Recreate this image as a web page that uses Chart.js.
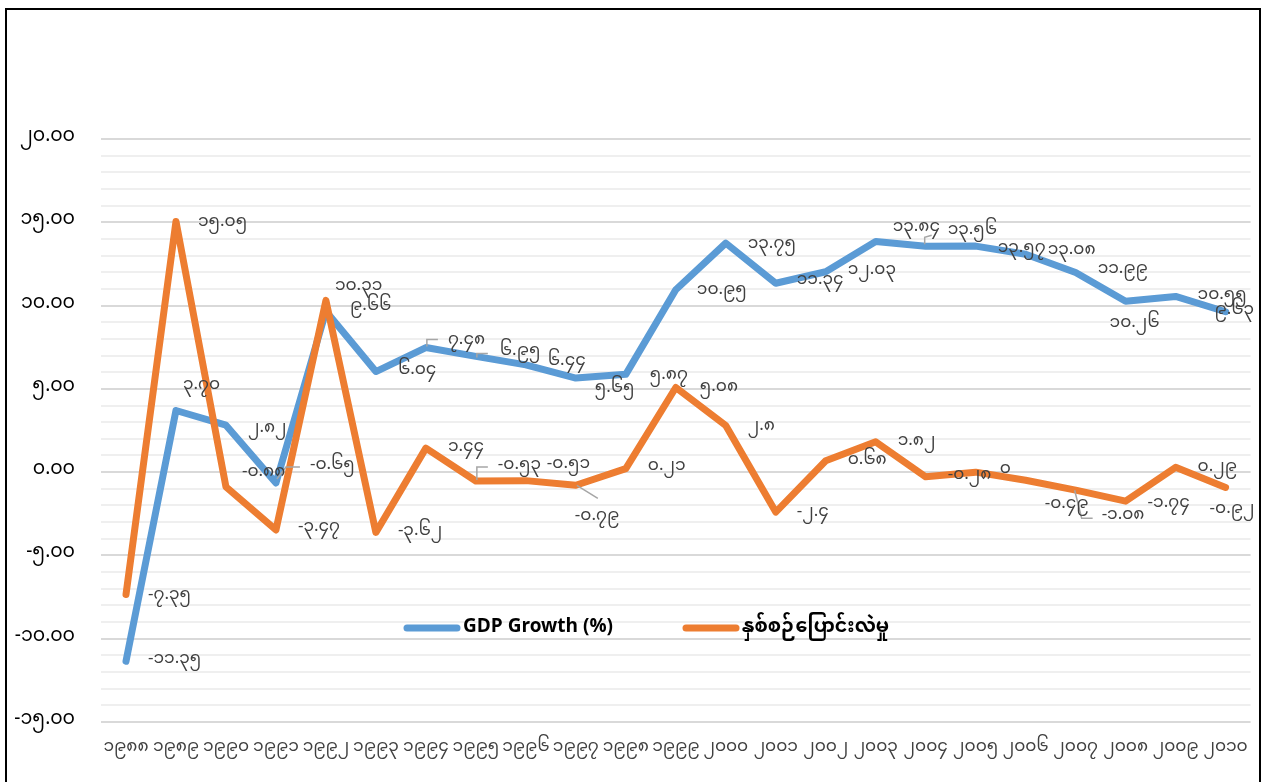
<!DOCTYPE html>
<html>
<head>
<meta charset="utf-8">
<script src="https://cdn.jsdelivr.net/npm/chart.js@4"></script>
<style>
  html, body { margin: 0; padding: 0; background: #fff; }
  #frame {
    position: absolute; left: 5px; top: 8px; width: 1252px; height: 800px;
    border: 2px solid #000; box-sizing: content-box;
  }
  #wrap { position: absolute; left: 0; top: 0; width: 1265px; height: 782px; }
</style>
</head>
<body>
<div id="frame"></div>
<div id="wrap"><canvas id="chart" width="1265" height="782"></canvas></div>
<script>
// ---------------------------------------------------------------
// data
// ---------------------------------------------------------------
const years = [1988, 1989, 1990, 1991, 1992, 1993, 1994, 1995, 1996, 1997, 1998, 1999,
  2000, 2001, 2002, 2003, 2004, 2005, 2006, 2007, 2008, 2009, 2010];

const gdpGrowth = [-11.35, 3.70, 2.82, -0.65, 9.66, 6.04, 7.48, 6.95, 6.44, 5.65, 5.87, 10.95,
  13.75, 11.34, 12.03, 13.84, 13.56, 13.57, 13.08, 11.99, 10.26, 10.55, 9.63];

const yearlyChange = [-7.35, 15.05, -0.88, -3.47, 10.31, -3.62, 1.44, -0.53, -0.51, -0.79, 0.21, 5.08,
  2.8, -2.4, 0.68, 1.82, -0.28, 0, -0.49, -1.08, -1.74, 0.29, -0.92];

const seriesNames = ["GDP Growth (%)", "နှစ်စဉ်ပြောင်းလဲမှု"];

const yMin = -15;
const yMax = 20;

// label offsets (dx, dy) from each point, like excel placed them
const gdpLabelPos = [
  [22, 0], [7, -23], [22, 5], [34, -16], [24, -3], [22, 1], [22, -5], [24, -3], [22, -2], [19, 12],
  [24, 3], [21, 2], [22, 3], [21, -1], [22, 0], [17, -12], [22, -14], [22, 4], [22, -2], [22, -1],
  [-16, 24], [22, 1], [-11, 0]
];
const changeLabelPos = [
  [22, 3], [22, 3], [16, -13], [22, -1], [9, -12], [22, 1], [22, 1], [22, -14], [21, -14], [-1, 33],
  [22, 0], [24, 2], [22, 3], [21, 2], [22, 1], [22, 1], [22, 0], [24, -1], [19, 26], [26, 27],
  [22, 4], [22, 2], [-16, 24]
];

// grey leader lines: [dataset, point, polyline offsets from the point]
const leaders = [
  [0, 3, [[1, -4], [10, -16], [24, -16]]],
  [0, 6, [[1, -1], [1, -8], [12, -8]]],
  [0, 7, [[1, 1], [1, -3], [12, -3]]],
  [0, 16, [[-1, -2], [-1, -9], [6, -11]]],
  [1, 7, [[1, -1], [1, -14], [12, -14]]],
  [1, 9, [[1, 0], [22, 13]]],
  [1, 18, [[49, 10], [56, 38], [67, 38]]],
];

// ---------------------------------------------------------------
// helpers
// ---------------------------------------------------------------
const MM_FONT = '"Noto Sans Myanmar", "Padauk", "Myanmar Text", "Noto Sans", sans-serif';

function toMyanmar(s) {
  return String(s).replace(/[0-9]/g, (d) => String.fromCharCode(0x1040 + Number(d)));
}

const dataLabels = {
  id: "dataLabels",
  afterDatasetsDraw(chart) {
    const ctx = chart.ctx;
    ctx.save();
    // leader lines first
    ctx.strokeStyle = "#A6A6A6";
    ctx.lineWidth = 1.5;
    leaders.forEach(([di, pi, path]) => {
      const pt = chart.getDatasetMeta(di).data[pi];
      ctx.beginPath();
      path.forEach(([dx, dy], k) => {
        if (k === 0) ctx.moveTo(pt.x + dx, pt.y + dy);
        else ctx.lineTo(pt.x + dx, pt.y + dy);
      });
      ctx.stroke();
    });

    ctx.font = "17px " + MM_FONT;
    ctx.fillStyle = "#404040";
    ctx.textAlign = "left";
    ctx.textBaseline = "middle";
    chart.data.datasets.forEach((ds, i) => {
      const meta = chart.getDatasetMeta(i);
      meta.data.forEach((pt, j) => {
        const [dx, dy] = ds.labelPos[j];
        ctx.fillText(ds.labelFmt(ds.data[j]), pt.x + dx, pt.y + dy);
      });
    });
    ctx.restore();
  },
};

// legend sits inside the plot, drawn by hand
const innerLegend = {
  id: "innerLegend",
  afterDraw(chart) {
    const ctx = chart.ctx;
    const items = [
      { x: 403, ds: chart.data.datasets[0] },
      { x: 682, ds: chart.data.datasets[1] },
    ];
    const y = 628;
    ctx.save();
    items.forEach((it) => {
      ctx.strokeStyle = it.ds.borderColor;
      ctx.lineWidth = 7;
      ctx.lineCap = "round";
      ctx.beginPath();
      ctx.moveTo(it.x + 4, y);
      ctx.lineTo(it.x + 54, y);
      ctx.stroke();
      ctx.fillStyle = "#000";
      ctx.font = "bold 19px " + MM_FONT;
      ctx.textAlign = "left";
      ctx.textBaseline = "middle";
      ctx.fillText(it.ds.label, it.x + 60, y + 2);
    });
    ctx.restore();
  },
};

// ---------------------------------------------------------------
// chart
// ---------------------------------------------------------------
const ctx = document.getElementById("chart").getContext("2d");

new Chart(ctx, {
  type: "line",
  data: {
    labels: years.map(toMyanmar),
    datasets: [
      {
        label: seriesNames[0],
        data: gdpGrowth,
        borderColor: "#5B9BD5",
        borderWidth: 7,
        order: 1,
        labelPos: gdpLabelPos,
        labelFmt: (v) => toMyanmar(v.toFixed(2)),
      },
      {
        label: seriesNames[1],
        data: yearlyChange,
        borderColor: "#ED7D31",
        borderWidth: 7,
        order: 0,
        labelPos: changeLabelPos,
        labelFmt: (v) => toMyanmar(String(v)),
      },
    ],
  },
  options: {
    responsive: false,
    animation: false,
    layout: { padding: { top: 139, right: 14, left: 0, bottom: 0 } },
    elements: {
      point: { radius: 0, hoverRadius: 0 },
      line: { tension: 0, borderJoinStyle: "round", borderCapStyle: "round", fill: false },
    },
    plugins: {
      legend: { display: false },
      tooltip: { enabled: false },
    },
    scales: {
      x: {
        offset: true,
        grid: { display: false, drawTicks: false },
        border: { display: false },
        ticks: {
          color: "#404040",
          font: { family: MM_FONT, size: 17 },
          padding: 17,
          maxRotation: 0,
          autoSkip: false,
        },
        afterFit: (s) => { s.height = 60; },
      },
      y: {
        min: yMin,
        max: yMax,
        grid: {
          drawTicks: false,
          color: (c) => (c.tick && c.tick.value % 5 === 0 ? "#D9D9D9" : "#EFEFEF"),
          lineWidth: 2,
        },
        border: { display: false },
        ticks: {
          stepSize: 1,
          autoSkip: false,
          color: "#000",
          font: { family: MM_FONT, size: 19 },
          padding: 26,
          callback: (v) => (v % 5 === 0 ? toMyanmar(v.toFixed(2)) : ""),
        },
        afterFit: (s) => { s.width = 101; },
      },
    },
  },
  plugins: [dataLabels, innerLegend],
});
</script>
</body>
</html>
